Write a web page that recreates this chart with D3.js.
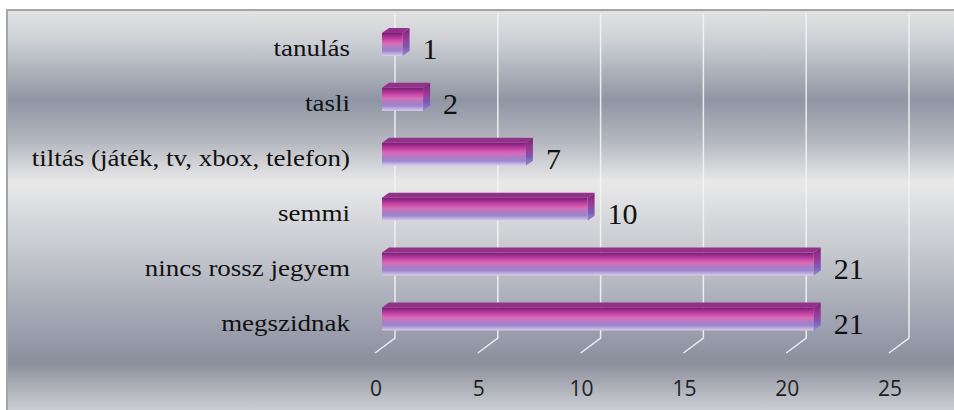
<!DOCTYPE html>
<html>
<head>
<meta charset="utf-8">
<script src="https://cdn.jsdelivr.net/npm/d3@7"></script>
<style>
  body { margin: 0; background: #fff; }
</style>
</head>
<body>
<svg id="chart" width="954" height="410"></svg>
<script>
// values
var categories = ["tanulás", "tasli", "tiltás (játék, tv, xbox, telefon)", "semmi", "nincs rossz jegyem", "megszidnak"];
var values = [1, 2, 7, 10, 21, 21];
var tickValues = [0, 5, 10, 15, 20, 25];

var serif = "'Liberation Serif'";
var sans = "'Open Sans'";

var svg = d3.select("#chart");
var defs = svg.append("defs");

// background gradient (banded metal look)
var bg = defs.append("linearGradient")
    .attr("id", "bg")
    .attr("x1", 0).attr("y1", 0).attr("x2", 0).attr("y2", 1);
[[0, "#e3e3e3"], [0.08, "#cbced3"], [0.22, "#8f95a3"], [0.32, "#b4b7bf"], [0.42, "#e9e9e9"],
 [0.6, "#c3c6cc"], [0.8, "#979baa"], [0.86, "#8b8f9c"], [0.97, "#c9cbd0"], [1, "#d0d1d5"]]
    .forEach(function (s) {
        bg.append("stop").attr("offset", s[0]).attr("stop-color", s[1]);
    });

var front = defs.append("linearGradient")
    .attr("id", "barFront")
    .attr("x1", 0).attr("y1", 0).attr("x2", 0).attr("y2", 1);
[[0, "#7a1c6f"], [0.1, "#962a8a"], [0.28, "#c845a6"], [0.46, "#d96eb7"], [0.6, "#b27bc6"],
 [0.78, "#9a86cc"], [1, "#dccdee"]]
    .forEach(function (s) {
        front.append("stop").attr("offset", s[0]).attr("stop-color", s[1]);
    });

var side = defs.append("linearGradient")
    .attr("id", "barSide")
    .attr("x1", 0).attr("y1", 0).attr("x2", 0).attr("y2", 1);
[[0, "#7a2378"], [0.4, "#9a3a96"], [0.7, "#7b5cb6"], [1, "#9d88d0"]]
    .forEach(function (s) {
        side.append("stop").attr("offset", s[0]).attr("stop-color", s[1]);
    });

// chart area with border on left / top
svg.append("rect")
    .attr("x", 7).attr("y", 10)
    .attr("width", 954).attr("height", 410)
    .attr("fill", "url(#bg)")
    .attr("stroke", "#a5a5a5")
    .attr("stroke-width", 2);

// back-wall value scale, floor depth offset
var x = d3.scaleLinear().domain([0, 25]).range([395, 909]);
var y = d3.scaleBand().domain(categories).range([17, 346.4]);
var depthX = -20, depthY = 15;
var gridTop = 13, gridBottom = 338;
var barShift = -13, barH = 23, bdx = 7, bdy = -5;

// gridlines
svg.append("g").selectAll("path")
    .data(tickValues)
    .join("path")
    .attr("d", function (t) {
        return "M" + x(t) + "," + gridTop + "V" + gridBottom +
            "L" + (x(t) + depthX) + "," + (gridBottom + depthY);
    })
    .attr("fill", "none")
    .attr("stroke", "#f4f4f6")
    .attr("stroke-opacity", 0.9)
    .attr("stroke-width", 1.5);

// tick labels
svg.append("g").selectAll("text")
    .data(tickValues)
    .join("text")
    .attr("x", function (t) { return x(t) - 19; })
    .attr("y", 396)
    .attr("text-anchor", "middle")
    .style("font-family", sans)
    .style("font-size", "21px")
    .attr("fill", "#1e1e1e")
    .text(function (t) { return t; });

// bars
var bars = svg.append("g").selectAll("g")
    .data(categories)
    .join("g");

function cy(d) { return y(d) + y.bandwidth() / 2; }
function x0() { return x(0) + barShift; }
function x1(d, i) { return x(values[i]) + barShift; }

bars.append("rect")
    .attr("x", x0())
    .attr("y", function (d) { return cy(d) - barH / 2; })
    .attr("width", function (d, i) { return x1(d, i) - x0(); })
    .attr("height", barH)
    .attr("fill", "url(#barFront)");

bars.append("path")
    .attr("d", function (d, i) {
        var yt = cy(d) - barH / 2, a = x0(), b = x1(d, i);
        return "M" + a + "," + yt + "L" + (a + bdx) + "," + (yt + bdy) +
            "L" + (b + bdx) + "," + (yt + bdy) + "L" + b + "," + yt + "Z";
    })
    .attr("fill", "#93308a");

bars.append("path")
    .attr("d", function (d, i) {
        var yt = cy(d) - barH / 2, yb = cy(d) + barH / 2, b = x1(d, i);
        return "M" + b + "," + yt + "L" + (b + bdx) + "," + (yt + bdy) +
            "L" + (b + bdx) + "," + (yb + bdy) + "L" + b + "," + yb + "Z";
    })
    .attr("fill", "url(#barSide)");

// value labels
bars.append("text")
    .attr("x", function (d, i) { return x1(d, i) + bdx + 13; })
    .attr("y", function (d) { return cy(d) + 15; })
    .style("font-family", serif)
    .style("font-size", "30px")
    .attr("fill", "#111")
    .text(function (d, i) { return values[i]; });

// category labels (wide, flattened serif)
svg.append("g").selectAll("text")
    .data(categories)
    .join("text")
    .attr("transform", function (d) {
        return "translate(350," + (cy(d) + 12) + ") scale(1,0.82)";
    })
    .attr("text-anchor", "end")
    .style("font-family", serif)
    .style("font-size", "27px")
    .attr("fill", "#111")
    .text(function (d) { return d; });
</script>
</body>
</html>
